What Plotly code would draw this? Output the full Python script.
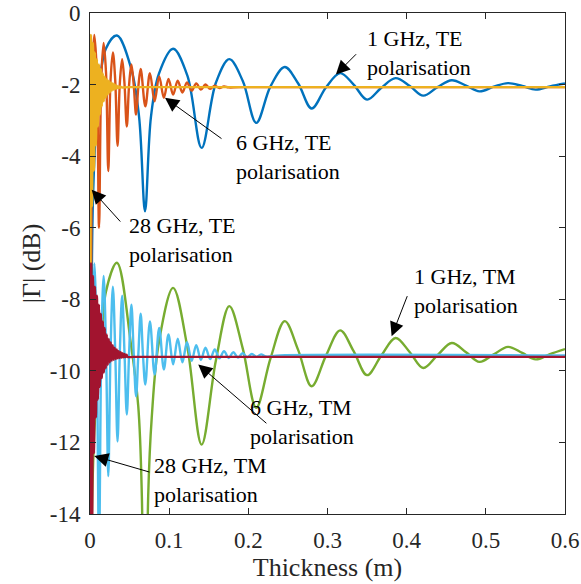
import plotly.graph_objects as go

# ---------------- data ----------------
# 1 GHz (TE and TM share the thickness positions of extrema / quarter points)
x_1ghz_te = [0.0003, 0.0015, 0.004, 0.010, 0.020, 0.034, 0.052, 0.062, 0.0695, 0.077, 0.087,
             0.105, 0.123, 0.141, 0.159, 0.176, 0.193, 0.210, 0.228, 0.246, 0.263, 0.280,
             0.298, 0.316, 0.333, 0.350, 0.368, 0.386, 0.404, 0.421, 0.439, 0.457, 0.475,
             0.492, 0.510, 0.528, 0.546, 0.563, 0.581, 0.600]
y_1ghz_te = [-20.0, -10.0, -5.0, -2.5, -1.0, -0.63, -1.55, -2.9, -5.54, -2.9, -1.7,
             -1.0, -1.75, -3.77, -1.95, -1.29, -1.9, -3.07, -2.05, -1.51, -1.97, -2.67,
             -2.08, -1.68, -2.0, -2.42, -2.09, -1.82, -2.04, -2.31, -2.07, -1.88, -2.03,
             -2.19, -2.06, -1.96, -2.04, -2.14, -2.05, -1.97]

x_1ghz_tm = [0.0003, 0.002, 0.006, 0.0139, 0.020, 0.034, 0.052, 0.061, 0.0655, 0.0695, 0.0735,
             0.078, 0.087, 0.105, 0.123, 0.141, 0.159, 0.176, 0.193, 0.210, 0.228, 0.246,
             0.263, 0.280, 0.298, 0.316, 0.333, 0.350, 0.368, 0.386, 0.404, 0.421, 0.439,
             0.457, 0.475, 0.492, 0.510, 0.528, 0.546, 0.563, 0.581, 0.600]
y_1ghz_tm = [-25.0, -14.5, -11.5, -9.4, -7.8, -6.98, -9.3, -11.0, -13.5, -22.0, -13.5,
             -11.3, -9.2, -7.68, -9.34, -12.06, -9.71, -8.19, -9.38, -11.03, -9.65, -8.61,
             -9.42, -10.43, -9.58, -8.87, -9.45, -10.12, -9.57, -9.08, -9.48, -9.92, -9.56,
             -9.22, -9.48, -9.75, -9.54, -9.33, -9.50, -9.68, -9.53, -9.39]

# 6 GHz
x_6ghz_te = [0.0003, 0.0015, 0.003, 0.0055, 0.0085, 0.0114, 0.0143, 0.0172, 0.0202, 0.0231,
             0.0260, 0.0289, 0.0318, 0.0348, 0.0377, 0.0406, 0.0435, 0.0465, 0.0494, 0.0523,
             0.0552, 0.0582, 0.0611, 0.0640, 0.0699, 0.0757, 0.0816, 0.0874, 0.0933, 0.0991,
             0.1050, 0.1108, 0.1167, 0.1225, 0.1284, 0.1342, 0.1401, 0.1459, 0.1518, 0.1576,
             0.1635, 0.1693, 0.1752, 0.19, 0.6]
y_6ghz_te = [-20.0, -7.0, -2.3, -0.61, -1.6, -6.0, -1.8, -0.84, -1.65, -4.42,
             -1.85, -1.10, -1.85, -3.71, -1.95, -1.29, -1.95, -3.17, -2.0, -1.44,
             -2.0, -2.84, -2.05, -1.56, -2.61, -1.68, -2.47, -1.77, -2.37, -1.84,
             -2.28, -1.89, -2.22, -1.94, -2.17, -1.97, -2.14, -2.00, -2.12, -2.03,
             -2.10, -2.05, -2.08, -2.07, -2.07]

x_6ghz_tm = [0.0003, 0.0015, 0.003, 0.0055, 0.0085, 0.0114, 0.0143, 0.0172, 0.0202, 0.0231,
             0.0260, 0.0289, 0.0318, 0.0348, 0.0377, 0.0406, 0.0435, 0.0465, 0.0494, 0.0523,
             0.0552, 0.0582, 0.0611, 0.0640, 0.0669, 0.0699, 0.0757, 0.0816, 0.0874, 0.0933,
             0.0991, 0.1050, 0.1108, 0.1167, 0.1225, 0.1284, 0.1342, 0.1401, 0.1459, 0.1518,
             0.1576, 0.1635, 0.1693, 0.1752, 0.1810, 0.1869, 0.1927, 0.1986, 0.2044, 0.2103,
             0.2161, 0.2220, 0.24, 0.6]
y_6ghz_tm = [-30.0, -14.0, -9.0, -7.0, -9.4, -15.0, -9.35, -7.35, -9.35, -12.94,
             -9.4, -7.65, -9.4, -11.97, -9.45, -7.9, -9.45, -11.22, -9.5, -8.15,
             -9.5, -10.71, -9.52, -8.4, -9.55, -10.38, -8.62, -10.10, -8.8, -9.96,
             -8.98, -9.82, -9.1, -9.76, -9.2, -9.72, -9.28, -9.69, -9.35, -9.67,
             -9.4, -9.65, -9.45, -9.64, -9.48, -9.63, -9.51, -9.62, -9.53, -9.61,
             -9.54, -9.60, -9.57, -9.57]

# 28 GHz
x_28ghz_te = [0.0002, 0.00125, 0.0025, 0.00375, 0.005, 0.00625, 0.0075, 0.00875, 0.01, 0.01125,
              0.0125, 0.01375, 0.015, 0.01625, 0.0175, 0.01875, 0.02, 0.02125, 0.0225, 0.02375,
              0.025, 0.02625, 0.0275, 0.02875, 0.03, 0.03125, 0.0325, 0.03375, 0.035, 0.03625,
              0.0375, 0.03875, 0.04, 0.05, 0.6]
y_28ghz_te = [-20.0, -0.61, -5.4, -0.84, -4.4, -1.10, -3.7, -1.29, -3.17, -1.44,
              -2.84, -1.56, -2.61, -1.68, -2.47, -1.77, -2.37, -1.84, -2.28, -1.89,
              -2.22, -1.94, -2.17, -1.97, -2.14, -2.00, -2.12, -2.03, -2.10, -2.05,
              -2.09, -2.06, -2.08, -2.07, -2.07]

x_28ghz_tm = [0.0002, 0.00125, 0.0025, 0.00375, 0.005, 0.00625, 0.0075, 0.00875, 0.01, 0.01125,
              0.0125, 0.01375, 0.015, 0.01625, 0.0175, 0.01875, 0.02, 0.02125, 0.0225, 0.02375,
              0.025, 0.02625, 0.0275, 0.02875, 0.03, 0.03125, 0.0325, 0.03375, 0.035, 0.03625,
              0.0375, 0.03875, 0.04, 0.04125, 0.0425, 0.04375, 0.045, 0.04625, 0.0475, 0.055, 0.6]
y_28ghz_tm = [-30.0, -7.0, -16.0, -7.35, -12.3, -7.65, -11.3, -7.9, -10.8, -8.15,
              -10.45, -8.4, -10.2, -8.62, -10.05, -8.8, -9.93, -8.98, -9.84, -9.1,
              -9.77, -9.2, -9.72, -9.28, -9.69, -9.35, -9.67, -9.4, -9.65, -9.45,
              -9.64, -9.48, -9.63, -9.51, -9.62, -9.53, -9.62, -9.55, -9.61, -9.61, -9.61]

x_tick_vals = [0, 0.1, 0.2, 0.3, 0.4, 0.5, 0.6]
x_tick_text = ["0", "0.1", "0.2", "0.3", "0.4", "0.5", "0.6"]
y_tick_vals = [0, -2, -4, -6, -8, -10, -12, -14]
y_tick_text = ["0", "-2", "-4", "-6", "-8", "-10", "-12", "-14"]

series = [
    (x_1ghz_te, y_1ghz_te, "#0072BD", "1 GHz, TE"),
    (x_6ghz_te, y_6ghz_te, "#D95319", "6 GHz, TE"),
    (x_28ghz_te, y_28ghz_te, "#EDB120", "28 GHz, TE"),
    (x_1ghz_tm, y_1ghz_tm, "#77AC30", "1 GHz, TM"),
    (x_6ghz_tm, y_6ghz_tm, "#4DBEEE", "6 GHz, TM"),
    (x_28ghz_tm, y_28ghz_tm, "#A2142F", "28 GHz, TM"),
]

# label text, text anchor (left, middle), arrow tail, arrow tip
labels = [
    ("1 GHz, TE<br>polarisation", (0.347, -1.11), (0.338, -1.11), (0.3106, -1.72)),
    ("6 GHz, TE<br>polarisation", (0.182, -4.01), (0.168, -3.54), (0.0947, -2.37)),
    ("28 GHz, TE<br>polarisation", (0.0467, -6.33), (0.040, -5.87), (0.0021, -4.94)),
    ("1 GHz, TM<br>polarisation", (0.4066, -7.76), (0.4015, -7.87), (0.381, -9.03)),
    ("6 GHz, TM<br>polarisation", (0.1995, -11.44), (0.2247, -11.5), (0.1367, -9.82)),
    ("28 GHz, TM<br>polarisation", (0.0783, -13.06), (0.077, -12.84), (0.0054, -12.38)),
]

FONT = "Liberation Serif, Times New Roman, Times, serif"
AX = "#262626"

fig = go.Figure()
for xs, ys, col, name in series:
    fig.add_trace(go.Scatter(x=xs, y=ys, mode="lines", name=name,
                             line=dict(color=col, width=2.4, shape="spline", smoothing=1.0),
                             showlegend=False, hoverinfo="skip"))

for text, tpos, tail, tip in labels:
    fig.add_annotation(x=tip[0], y=tip[1], ax=tail[0], ay=tail[1],
                       xref="x", yref="y", axref="x", ayref="y",
                       text="", showarrow=True, arrowhead=2, arrowsize=2.8,
                       arrowwidth=1, arrowcolor="black", standoff=0, startstandoff=0)
    fig.add_annotation(x=tpos[0], y=tpos[1], xref="x", yref="y", text=text,
                       showarrow=False, xanchor="left", yanchor="middle", align="left",
                       font=dict(family=FONT, size=22, color="black"))

fig.update_layout(
    width=581, height=584,
    margin=dict(l=90, r=16, t=13, b=70),
    paper_bgcolor="white", plot_bgcolor="white",
    font=dict(family=FONT, size=23, color=AX),
)
fig.update_xaxes(range=[0, 0.6], tickvals=x_tick_vals, ticktext=x_tick_text,
                 showgrid=False, zeroline=False, showline=True, linecolor=AX, linewidth=1,
                 mirror="ticks", ticks="inside", ticklen=6, tickcolor=AX,
                 ticklabelstandoff=5,
                 tickfont=dict(family=FONT, size=23, color=AX),
                 title=dict(text="Thickness (m)", font=dict(family=FONT, size=26, color=AX), standoff=6),
                 automargin=False)
fig.update_yaxes(range=[-14, 0], tickvals=y_tick_vals, ticktext=y_tick_text,
                 showgrid=False, zeroline=False, showline=True, linecolor=AX, linewidth=1,
                 mirror="ticks", ticks="inside", ticklen=6, tickcolor=AX,
                 ticklabelstandoff=4,
                 tickfont=dict(family=FONT, size=23, color=AX),
                 title=dict(text="|Γ| (dB)", font=dict(family=FONT, size=26, color=AX), standoff=1),
                 automargin=False)

fig.write_html("out.html")
